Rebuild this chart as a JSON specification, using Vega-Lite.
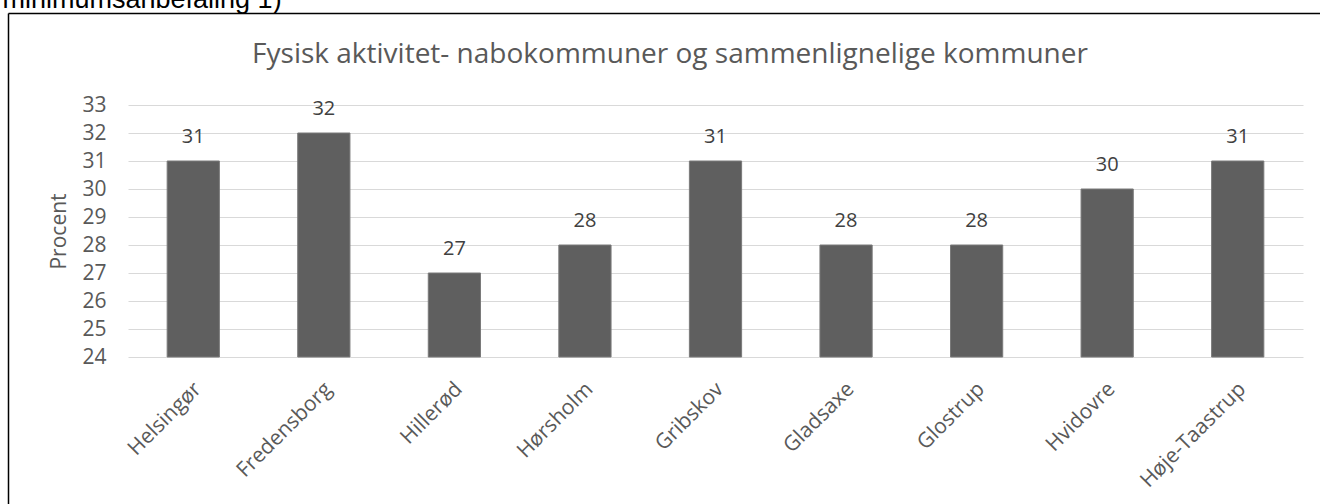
{
  "$schema": "https://vega.github.io/schema/vega-lite/v6.json",
  "width": 1312,
  "height": 491,
  "autosize": {"type": "none"},
  "padding": {"left": 8, "top": 13, "right": 0, "bottom": 0},
  "background": "white",
  "title": {
    "text": "Fysisk aktivitet- nabokommuner og sammenlignelige kommuner",
    "anchor": "middle",
    "frame": "group",
    "offset": -106,
    "baseline": "alphabetic",
    "dx": 6,
    "font": "Open Sans",
    "fontSize": 28,
    "fontWeight": "normal",
    "color": "#595959"
  },
  "data": {
    "values": [
      {"kommune": "Helsingør", "procent": 31},
      {"kommune": "Fredensborg", "procent": 32},
      {"kommune": "Hillerød", "procent": 27},
      {"kommune": "Hørsholm", "procent": 28},
      {"kommune": "Gribskov", "procent": 31},
      {"kommune": "Gladsaxe", "procent": 28},
      {"kommune": "Glostrup", "procent": 28},
      {"kommune": "Hvidovre", "procent": 30},
      {"kommune": "Høje-Taastrup", "procent": 31}
    ]
  },
  "layer": [
    {
      "encoding": {
        "x": {
          "field": "kommune",
          "type": "nominal",
          "sort": null,
          "scale": {"range": [120, 1295], "paddingInner": 0.6, "paddingOuter": 0.3},
          "axis": {
            "title": null,
            "orient": "bottom",
            "offset": -147,
            "domain": false,
            "ticks": false,
            "tickSize": 0,
            "grid": false,
            "labelAngle": -45,
            "labelAlign": "right",
            "labelBaseline": "top",
            "labelPadding": 21,
            "labelOffset": -3,
            "labelFont": "Open Sans",
            "labelFontSize": 21,
            "labelColor": "#595959"
          }
        },
        "y": {
          "field": "procent",
          "type": "quantitative",
          "scale": {"domain": [24, 33], "range": [344, 92], "nice": false, "zero": false},
          "axis": {
            "title": "Procent",
            "orient": "left",
            "offset": -120,
            "values": [24, 25, 26, 27, 28, 29, 30, 31, 32, 33],
            "domain": false,
            "ticks": false,
            "tickSize": 0,
            "grid": true,
            "gridColor": "#d9d9d9",
            "gridWidth": 1,
            "labelPadding": 22,
            "labelFont": "Open Sans",
            "labelFontSize": 21,
            "labelColor": "#595959",
            "titleFont": "Open Sans",
            "titleFontSize": 21,
            "titleFontWeight": "normal",
            "titleColor": "#595959",
            "titlePadding": 12
          }
        }
      },
      "layer": [
        {
          "mark": {"type": "bar", "color": "#5f5f5f", "stroke": "#7a7a7a", "strokeWidth": 1},
          "encoding": {"y2": {"datum": 24}}
        },
        {
          "mark": {"type": "text", "baseline": "alphabetic", "dy": -18, "font": "Open Sans", "fontSize": 20, "color": "#404040"},
          "encoding": {"text": {"field": "procent", "type": "quantitative"}}
        }
      ]
    },
    {
      "mark": {"type": "point", "opacity": 0},
      "encoding": {
        "x": {
          "field": "procent",
          "type": "quantitative",
          "axis": {
            "orient": "top",
            "domain": true,
            "domainColor": "#000000",
            "domainWidth": 1.5,
            "ticks": false,
            "labels": false,
            "grid": false,
            "title": "minimumsanbefaling 1)",
            "titleX": -6,
            "titleY": -6,
            "titleAlign": "left",
            "titleBaseline": "alphabetic",
            "titleFont": "Liberation Sans",
            "titleFontSize": 27,
            "titleFontWeight": "normal",
            "titleColor": "#000000"
          }
        },
        "y": {
          "field": "procent",
          "type": "quantitative",
          "axis": {
            "orient": "left",
            "domain": true,
            "domainColor": "#000000",
            "domainWidth": 1.5,
            "ticks": false,
            "labels": false,
            "grid": false,
            "title": null
          }
        }
      }
    }
  ],
  "resolve": {
    "scale": {"x": "independent", "y": "independent"},
    "axis": {"x": "independent", "y": "independent"}
  },
  "config": {
    "view": {"stroke": null}
  }
}
